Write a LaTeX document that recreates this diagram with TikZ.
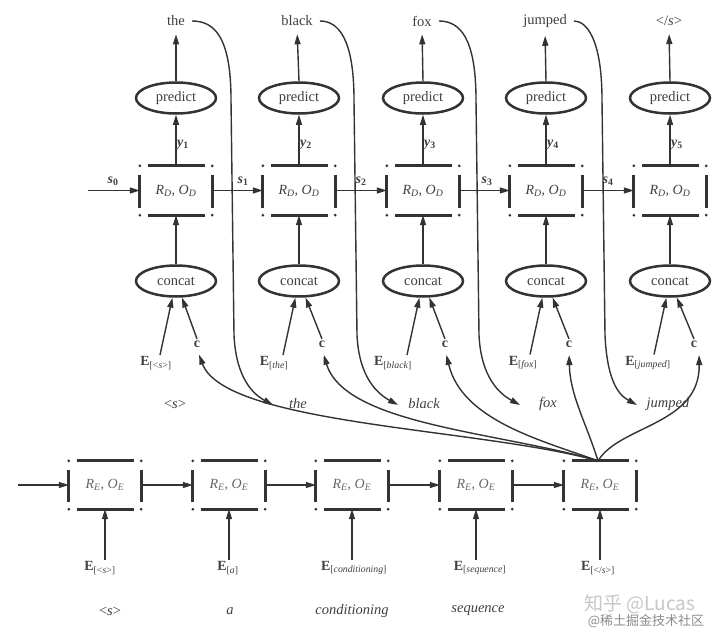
\documentclass[tikz,border=0pt]{standalone}
\usepackage{fontspec}
\setmainfont{Liberation Serif}
\newfontfamily\cjk{Noto Sans CJK SC}
\usetikzlibrary{shapes.geometric,arrows.meta,calc}
\definecolor{ink}{gray}{0.2}
\definecolor{txt}{gray}{0.25}
\tikzset{
  arr/.style={draw=ink, line width=1.4pt, -{Triangle[length=10pt,width=6pt]}},
  oval/.style={ellipse, draw=ink, line width=2.5pt, minimum width=80pt, minimum height=31pt, inner sep=0pt, text=txt, font=\fontsize{14.5}{16}\selectfont},
  rbox/.style={rectangle, minimum width=72pt, minimum height=49pt, inner sep=0pt, text=txt, font=\fontsize{14}{16}\selectfont\itshape},
  side/.style={draw=ink, line width=2.8pt},
  word/.style={font=\fontsize{14.5}{16}\selectfont, text=txt, inner sep=2pt},
  iword/.style={font=\fontsize{14.5}{16}\selectfont\itshape, text=txt, inner sep=2pt},
  lab/.style={font=\fontsize{14}{16}\selectfont\bfseries, text=txt, inner sep=1.5pt},
}
\newcommand{\Esub}[1]{\textbf{E}\textsubscript{\mdseries #1}}
\begin{document}
\begin{tikzpicture}[x=1pt,y=-1pt]
\useasboundingbox (0,0) rectangle (720,634);
\fill[white] (0,0) rectangle (720,634);

% ---------------- decoder ----------------
\foreach \i/\x in {1/176,2/299,3/423,4/546,5/670} {
  \node[oval] (p\i) at (\x,98) {predict};
  \node[rbox] (d\i) at (\x,190.5) {R\textsubscript{D}, O\textsubscript{D}};
  \node[oval] (c\i) at (\x,281) {concat};
}
\node[word] (w1) at (176,21) {the};
\node[word] (w2) at (297,21) {black};
\node[word] (w3) at (422,21) {fox};
\node[word] (w4) at (545,21) {jumped};
\node[word] (w5) at (669,21) {</\textit{s}>};

\node[lab] (y1) at (183,145) {\textit{y}\textsubscript{1}};
\node[lab] (y2) at (306,145) {\textit{y}\textsubscript{2}};
\node[lab] (y3) at (430,145) {\textit{y}\textsubscript{3}};
\node[lab] (y4) at (553,145) {\textit{y}\textsubscript{4}};
\node[lab] (y5) at (677,145) {\textit{y}\textsubscript{5}};

\node[lab] (s0) at (113,181) {\textit{s}\textsubscript{0}};
\node[lab] (s1) at (243,181) {\textit{s}\textsubscript{1}};
\node[lab] (s2) at (361,181) {\textit{s}\textsubscript{2}};
\node[lab] (s3) at (487,181) {\textit{s}\textsubscript{3}};
\node[lab] (s4) at (608,181) {\textit{s}\textsubscript{4}};

\node[lab] (de1) at (156,363) {\Esub{[<\textit{s}>]}};
\node[lab] (de2) at (274,363) {\Esub{[\textit{the}]}};
\node[lab] (de3) at (393,363) {\Esub{[\textit{black}]}};
\node[lab] (de4) at (523,363) {\Esub{[\textit{fox}]}};
\node[lab] (de5) at (648,363) {\Esub{[\textit{jumped}]}};

\node[lab] (cc1) at (197,344) {c};
\node[lab] (cc2) at (322,344) {c};
\node[lab] (cc3) at (445,344) {c};
\node[lab] (cc4) at (569,344) {c};
\node[lab] (cc5) at (694,344) {c};

\node[word]  (rw1) at (175,404) {<\textit{s}>};
\node[iword] (rw2) at (298,404) {the};
\node[iword] (rw3) at (424,404) {black};
\node[iword] (rw4) at (548,404) {fox};
\node[iword] (rw5) at (668,404) {jumped};

\coordinate (in0) at (88,190.5);
\draw[arr] (in0) -- (d1.west);
\foreach \i/\j in {1/2,2/3,3/4,4/5} \draw[arr] (d\i.east) -- (d\j.west);
\foreach \i/\o in {1/4,2/9,3/14,4/7,5/6} {
  \draw[arr] (d\i.north) -- (p\i.south);
  \draw[arr, shorten >=6pt] (p\i.north) -- (w\i.south);
  \draw[arr] (c\i.north) -- (d\i.south);
  \draw[arr] ([xshift=\o pt]de\i.north) -- (c\i);
  \draw[arr] (cc\i.north) -- (c\i);
}

% curves from output words to next inputs
\coordinate (t2) at (273,405);
\coordinate (t3) at (398,405);
\coordinate (t4) at (520,405);
\coordinate (t5) at (637,405);
\foreach \i/\j/\v in {1/2/231,2/3/354,3/4/476,4/5/602}
  \draw[arr, shorten <=5pt] (w\i.east) .. controls (\v-16,21) and (\v,38) .. (\v,100)
     -- (\v+3,335) .. controls (\v+5,378) and ($(t\j)+(-20,-11)$) .. (t\j);

% ---------------- encoder ----------------
\foreach \i/\x in {1/105,2/229,3/352,4/476,5/600}
  \node[rbox, minimum height=48pt, text=txt!80] (e\i) at (\x,485) {R\textsubscript{E}, O\textsubscript{E}};

\coordinate (ein) at (18,485);
\draw[arr] (ein) -- (e1.west);
\foreach \i/\j in {1/2,2/3,3/4,4/5} \draw[arr] (e\i.east) -- (e\j.west);

\node[lab] (ee1) at (100,568) {\Esub{[<\textit{s}>]}};
\node[lab] (ee2) at (228,568) {\Esub{[\textit{a}]}};
\node[lab] (ee3) at (354,568) {\Esub{[\textit{conditioning}]}};
\node[lab] (ee4) at (480,568) {\Esub{[\textit{sequence}]}};
\node[lab] (ee5) at (598,568) {\Esub{[</\textit{s}>]}};
\foreach \i in {1,...,5} \draw[arr] (e\i.south |- ee\i.north) -- (e\i.south);

\node[word]  (ew1) at (110,611) {<\textit{s}>};
\node[iword] (ew2) at (230,611) {a};
\node[iword] (ew3) at (352,611) {conditioning};
\node[iword] (ew4) at (478,611) {sequence};

% context vector curves
\coordinate (src) at ([xshift=-2pt]e5.north);
\draw[arr, shorten >=6pt] (src) .. controls (480,428) and (225,425) .. (cc1.south);
\draw[arr, shorten >=6pt] (src) .. controls (500,432) and (345,425) .. (cc2.south);
\draw[arr, shorten >=6pt] (src) .. controls (540,440) and (462,420) .. (cc3.south);
\draw[arr, shorten >=6pt] (src) .. controls (585,420) and (570,395) .. (cc4.south);
\draw[arr, shorten >=6pt] (src) .. controls (620,425) and (700,425) .. ([xshift=5pt]cc5.south);

% box decorations
\foreach \b in {d1,d2,d3,d4,d5,e1,e2,e3,e4,e5} {
  \draw[side] ([xshift=8pt]\b.north west) -- ([xshift=-7pt]\b.north east);
  \draw[side] ([xshift=8pt]\b.south west) -- ([xshift=-7pt]\b.south east);
  \draw[side] ([yshift=-9pt]\b.north west) -- ([yshift=7pt]\b.south west);
  \draw[side] ([yshift=-9pt]\b.north east) -- ([yshift=7pt]\b.south east);
  \foreach \a in {north west,north east,south west,south east}
    \fill[ink] (\b.\a) circle (1.5pt);
}

% watermark
\node[font=\cjk\fontsize{19}{21}\selectfont, text=black!22, inner sep=0pt] (wm1) at (640,604) {知乎 @Lucas};
\node[font=\cjk\fontsize{13}{15}\selectfont, text=black!45, inner sep=0pt] (wm2) at (646,621) {@稀土掘金技术社区};
\end{tikzpicture}
\end{document}
